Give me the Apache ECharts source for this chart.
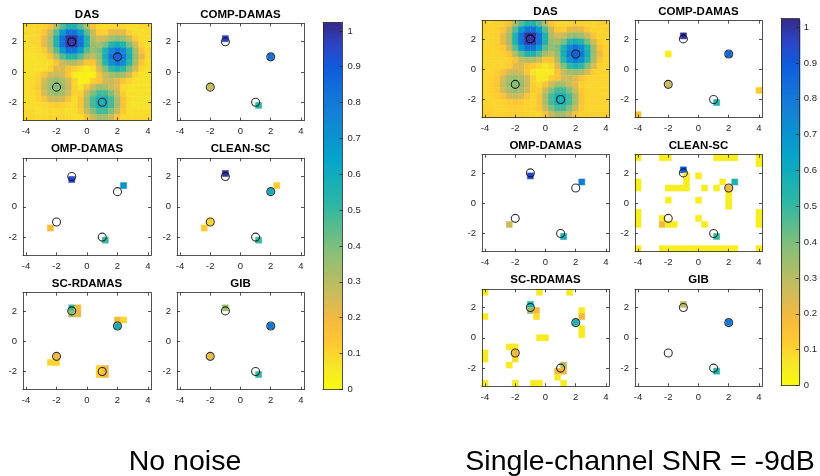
<!DOCTYPE html>
<html><head><meta charset="utf-8">
<script src="https://cdn.jsdelivr.net/npm/echarts@6/dist/echarts.min.js"></script>
<style>html,body{margin:0;padding:0;background:#fff}#c{width:820px;height:476px}</style>
</head><body><div id="c"></div>
<script>
// ---------------- data ----------------
const xCenters = [-4,-3.6,-3.2,-2.8,-2.4,-2,-1.6,-1.2,-0.8,-0.4,0,0.4,0.8,1.2,1.6,2,2.4,2.8,3.2,3.6,4];
const yCenters = [3,2.6,2.2,1.8,1.4,1,0.6,0.2,-0.2,-0.6,-1,-1.4,-1.8,-2.2,-2.6,-3];
const xTicks = [-4,-2,0,2,4];
const yTicks = [-2,0,2];
const cbTicks = [0,0.1,0.2,0.3,0.4,0.5,0.6,0.7,0.8,0.9,1];
const sources = [[-1,2],[2,1],[-2,-1],[1,-2]];
const titles = ['DAS','COMP-DAMAS','OMP-DAMAS','CLEAN-SC','SC-RDAMAS','GIB'];
const captions = ['No noise','Single-channel SNR = -9dB'];

const dasClean = [
[.09,.09,.10,.11,.15,.31,.45,.55,.55,.45,.31,.15,.09,.08,.09,.10,.09,.08,.08,.09,.09],
[.09,.09,.10,.14,.27,.45,.67,.82,.82,.67,.45,.27,.12,.11,.21,.23,.21,.11,.08,.08,.09],
[.08,.09,.10,.21,.32,.55,.82,1.0,1.0,.82,.55,.31,.25,.26,.34,.37,.34,.26,.12,.08,.08],
[.08,.09,.10,.21,.32,.55,.82,.99,.99,.82,.55,.35,.33,.40,.54,.59,.54,.40,.25,.10,.07],
[.08,.08,.09,.12,.27,.45,.67,.82,.82,.67,.45,.36,.40,.55,.74,.82,.74,.55,.33,.15,.09],
[.07,.07,.08,.09,.15,.31,.45,.55,.55,.45,.33,.28,.37,.58,.80,.88,.80,.58,.35,.21,.09],
[.07,.07,.07,.07,.08,.15,.27,.31,.31,.26,.14,.15,.32,.53,.72,.80,.72,.53,.32,.14,.08],
[.07,.07,.07,.08,.10,.22,.24,.15,.12,.08,.04,.08,.24,.39,.52,.57,.52,.39,.24,.09,.07],
[.07,.08,.10,.15,.25,.27,.25,.14,.04,.03,.03,.03,.15,.28,.33,.36,.33,.25,.10,.07,.07],
[.08,.09,.11,.25,.33,.36,.33,.25,.10,.03,.03,.11,.15,.25,.27,.23,.15,.10,.07,.07,.07],
[.08,.09,.12,.27,.36,.39,.36,.27,.11,.06,.14,.26,.33,.33,.27,.22,.09,.07,.07,.07,.07],
[.08,.09,.11,.25,.33,.36,.33,.25,.11,.11,.27,.39,.48,.48,.39,.27,.11,.07,.07,.07,.07],
[.08,.08,.10,.15,.25,.27,.25,.15,.08,.15,.33,.48,.58,.58,.48,.33,.15,.08,.07,.07,.07],
[.08,.08,.08,.09,.11,.12,.11,.09,.08,.15,.33,.48,.58,.58,.48,.33,.15,.08,.07,.07,.07],
[.09,.09,.08,.08,.09,.09,.09,.08,.08,.12,.27,.39,.48,.48,.39,.27,.12,.08,.08,.08,.08],
[.10,.10,.09,.09,.10,.10,.10,.09,.08,.08,.15,.27,.33,.33,.27,.15,.09,.09,.09,.09,.09]
];
const dasNoisy = [
[.11,.10,.11,.12,.16,.31,.45,.55,.55,.45,.31,.15,.10,.09,.10,.12,.11,.10,.10,.11,.11],
[.11,.10,.11,.14,.27,.45,.67,.82,.82,.67,.45,.27,.13,.12,.21,.23,.21,.13,.10,.10,.11],
[.10,.10,.11,.21,.32,.55,.82,1.0,1.0,.82,.55,.31,.25,.26,.34,.37,.34,.26,.14,.10,.10],
[.10,.10,.11,.21,.32,.55,.82,.99,.99,.82,.55,.35,.33,.40,.54,.59,.54,.40,.25,.12,.10],
[.10,.10,.11,.13,.27,.45,.67,.82,.82,.67,.45,.36,.40,.55,.74,.82,.74,.55,.33,.16,.11],
[.10,.10,.10,.11,.15,.31,.45,.55,.55,.45,.33,.28,.37,.58,.80,.88,.80,.58,.35,.21,.11],
[.10,.10,.10,.10,.11,.15,.27,.31,.31,.26,.14,.15,.32,.53,.72,.80,.72,.53,.32,.15,.10],
[.10,.10,.10,.10,.12,.22,.24,.15,.13,.09,.06,.09,.24,.39,.52,.57,.52,.39,.24,.11,.10],
[.10,.10,.12,.16,.25,.27,.25,.14,.06,.04,.04,.05,.15,.28,.33,.36,.33,.25,.12,.10,.10],
[.10,.11,.13,.25,.33,.36,.33,.25,.11,.05,.05,.12,.15,.25,.27,.23,.15,.11,.10,.10,.10],
[.10,.11,.14,.27,.36,.39,.36,.27,.12,.08,.14,.26,.33,.33,.27,.22,.11,.10,.10,.10,.10],
[.10,.11,.13,.25,.33,.36,.33,.25,.12,.12,.27,.39,.48,.48,.39,.27,.13,.10,.10,.10,.10],
[.10,.10,.12,.15,.25,.27,.25,.15,.10,.15,.33,.48,.58,.58,.48,.33,.15,.10,.10,.10,.10],
[.10,.10,.10,.11,.13,.14,.13,.11,.10,.15,.33,.48,.58,.58,.48,.33,.15,.10,.10,.10,.10],
[.11,.11,.10,.10,.11,.11,.11,.10,.10,.13,.27,.39,.48,.48,.39,.27,.13,.10,.10,.10,.10],
[.12,.12,.11,.11,.12,.12,.12,.11,.10,.10,.15,.27,.33,.33,.27,.15,.11,.11,.11,.11,.11]
];

// sparse maps: [x, y, value]
const compClean = [[-1.0,2.2,0.97],[2.0,1.0,0.82],[-2.0,-1.0,0.27],[1.2,-2.2,0.52]];
const ompClean = [[-1.0,1.8,0.95],[2.4,1.4,0.70],[-2.4,-1.4,0.18],[1.2,-2.2,0.50]];
const cleanClean = [[-1.0,2.2,1.0],[2.0,1.0,0.60],[2.4,1.4,0.12],[-2.4,-1.4,0.12],[-2.0,-1.0,0.10],[1.2,-2.2,0.50]];
const rdamasClean = [[-1.0,2.2,0.50],[-1.0,1.8,0.35],[-0.6,2.2,0.20],[-0.6,1.8,0.22],
  [2.0,1.0,0.60],[2.0,1.4,0.20],[2.4,1.4,0.10],
  [-2.0,-1.0,0.20],[-2.4,-1.4,0.10],[-2.0,-1.4,0.10],
  [0.8,-1.8,0.10],[1.2,-1.8,0.20],[0.8,-2.2,0.12],[1.2,-2.2,0.20]];
const gibClean = [[-1.0,2.2,0.35],[2.0,1.0,0.80],[-2.0,-1.0,0.22],[1.2,-2.2,0.50]];

const compNoisy = [[-1.0,2.2,1.0],[2.0,1.0,0.85],[-2.0,1.0,0.04],[-2.0,-1.0,0.27],[1.2,-2.2,0.55],[4.0,-1.4,0.12],[-4.0,-3.0,0.15]];
const ompNoisy = [[-1.0,1.8,0.95],[2.4,1.4,0.78],[-2.4,-1.4,0.27],[1.2,-2.2,0.58]];
const cleanNoisy = [[-4,3,.04],[-2.4,3,.04],[-2,3,.04],[1.2,3,.04],[1.6,3,.04],[2,3,.04],[2.4,3,.04],[4,3,.04],[4,2.6,.04],
  [-4,1.4,.04],[-4,1,.04],[-4,-0.6,.04],[-4,-1,.04],[-4,-1.4,.04],[4,-0.6,.04],[4,-1,.04],[4,-1.4,.04],
  [-1.0,2.2,0.9],[-0.8,1.8,.04],[-0.8,1.4,.04],[-0.8,1.0,.04],[-2.0,1.0,.04],[-1.6,1.0,.04],[-1.2,1.0,.04],
  [0,1.8,.04],[0.4,1.0,.04],[1.2,1.0,.04],[1.6,1.4,.04],[2.0,1.0,0.2],[2.4,1.4,0.55],[2.0,0.6,.04],[2.0,0.2,.04],[2.0,-0.2,.04],
  [-2.0,0.2,.04],[0,0.2,.04],[0,-1.0,.04],[0.4,-1.4,.04],[-2.4,-1.0,.04],[-2.4,-1.4,0.2],[-2.0,-1.4,.04],[-1.6,-1.4,.04],
  [1.2,-2.2,0.5],
  [-4,-3,.04],[-2.4,-3,.04],[-2,-3,.04],[-1.6,-3,.04],[-1.2,-3,.04],[-0.8,-3,.04],[-0.4,-3,.04],[0,-3,.04],[0.4,-3,.04],[0.8,-3,.04],[1.2,-3,.04],[1.6,-3,.04],[2,-3,.04],[2.4,-3,.04],[4,-3,.04]];
const rdamasNoisy = [[-4,3,.05],[-0.4,3,.05],[1.6,3,.05],
  [-1.0,2.2,0.55],[-1.0,1.8,0.35],[-0.6,1.8,0.2],[-0.6,1.4,0.08],[-4,1.4,.05],
  [2.4,1.8,.05],[2.4,1.4,0.2],[2.0,1.0,0.55],[2.4,0.6,.05],[2.4,0.2,.05],
  [-0.4,0.0,.05],[0.0,0.0,.05],
  [-2.4,-0.6,.05],[-2.0,-0.6,.05],[-2.0,-1.0,0.2],[-2.0,-1.4,.08],[-2.4,-1.8,.05],
  [-4,-1.0,.05],[-4,-1.4,.05],
  [1.2,-1.8,0.3],[0.8,-2.2,0.2],[1.2,-2.2,0.2],[0.8,-2.6,.05],
  [-4,-3,.05],[-2.0,-3,.05],[-0.8,-3,.05],[-0.4,-3,.05],[1.2,-3,.05]];
const gibNoisy = [[-1.0,2.2,0.30],[2.0,1.0,0.80],[1.2,-2.2,0.55]];

// ---------------- styling / layout ----------------
const FONT = 'Liberation Sans, Arial, Helvetica, sans-serif';
const AX = '#262626';
const HALF = (xCenters[1] - xCenters[0]) / 2;
// reversed parula, evenly spaced from 0 to CMAX
const parula = ['#f9fb0e','#f6e529','#fec832','#f4ba3e','#d1bb59','#adbd67','#87bf77','#5bbc8d','#2eb7a4','#18afb5','#06a4ca','#0a93d0','#1481d6','#1270d9','#0f5cdd','#2c44c6','#352a87'];
const CMAX = 1.024;

function denseToCells(m){
  const out=[];
  for(let r=0;r<m.length;r++) for(let c=0;c<m[r].length;c++) out.push([xCenters[c], yCenters[r], m[r][c]]);
  return out;
}
const panels = [
  {cells: denseToCells(dasClean)}, {cells: compClean}, {cells: ompClean}, {cells: cleanClean}, {cells: rdamasClean}, {cells: gibClean},
  {cells: denseToCells(dasNoisy)}, {cells: compNoisy}, {cells: ompNoisy}, {cells: cleanNoisy}, {cells: rdamasNoisy}, {cells: gibNoisy}
];
const geo = [
  [23,23.5,128,97],[177,23.5,127,97],[23,158.3,128,97],[177,158.3,127,97],[23,292.7,128,97],[177,292.7,127,97],
  [482,20.7,127,97],[635,20.7,127,97],[482,154.7,127,97],[635,154.7,127,97],[482,289.3,127,97],[635,289.3,127,97]
];
const cbGeo = [[323,22.3,19.5,367],[781,18.5,19.5,367]];

const grid=[], xAxis=[], yAxis=[], series=[], graphic=[];
function axisCommon(extra){
  return Object.assign({type:'value', z:10, splitLine:{show:false},
    axisLine:{show:true,onZero:false,lineStyle:{color:AX,width:0.8}}}, extra);
}
panels.forEach((p,k)=>{
  const [l,t,w,h] = geo[k];
  grid.push({left:l, top:t, width:w, height:h, containLabel:false});
  const tickX = {show:true,inside:true,length:3,customValues:xTicks,lineStyle:{color:AX,width:0.8}};
  const tickY = {show:true,inside:true,length:3,customValues:yTicks,lineStyle:{color:AX,width:0.8}};
  xAxis.push(axisCommon({gridIndex:k,min:-4.2,max:4.2,position:'bottom',axisTick:tickX,
    axisLabel:{show:true,customValues:xTicks,color:AX,fontSize:9.5,margin:6,fontFamily:FONT}}));
  xAxis.push(axisCommon({gridIndex:k,min:-4.2,max:4.2,position:'top',axisTick:tickX,axisLabel:{show:false}}));
  yAxis.push(axisCommon({gridIndex:k,min:-3.2,max:3.2,position:'left',axisTick:tickY,
    axisLabel:{show:true,customValues:yTicks,color:AX,fontSize:9.5,margin:6,fontFamily:FONT}}));
  yAxis.push(axisCommon({gridIndex:k,min:-3.2,max:3.2,position:'right',axisTick:tickY,axisLabel:{show:false}}));
  series.push({type:'custom', xAxisIndex:2*k, yAxisIndex:2*k, data:p.cells, z:2, silent:true,
    encode:{x:0,y:1},
    renderItem:function(params, api){
      const x=api.value(0), y=api.value(1);
      const a=api.coord([x-HALF,y+HALF]), b=api.coord([x+HALF,y-HALF]);
      const cs=params.coordSys;
      const r=echarts.graphic.clipRectByRect({x:a[0],y:a[1],width:b[0]-a[0],height:b[1]-a[1]},{x:cs.x,y:cs.y,width:cs.width,height:cs.height});
      if(!r) return;
      const col=api.visual('color');
      return {type:'rect',shape:r,style:{fill:col,stroke:col,lineWidth:0.5}};
    }});
  series.push({type:'scatter', xAxisIndex:2*k, yAxisIndex:2*k, data:sources, z:5, silent:true,
    symbol:'circle', symbolSize:8, itemStyle:{color:'rgba(0,0,0,0)',borderColor:'#000',borderWidth:1.1}});
  graphic.push({type:'text', x:l+w/2, y:t-9, style:{text:titles[k%6], font:'bold 11.5px '+FONT, fill:'#000', textAlign:'center', textVerticalAlign:'middle'}});
});
// colorbars: frame + ticks as grids
cbGeo.forEach((g,i)=>{
  const gi = 12+i;
  const [l,t,w,h]=g;
  grid.push({left:l, top:t, width:w, height:h});
  xAxis.push(axisCommon({gridIndex:gi,min:0,max:1,position:'bottom',axisTick:{show:false},axisLabel:{show:false}}));
  xAxis.push(axisCommon({gridIndex:gi,min:0,max:1,position:'top',axisTick:{show:false},axisLabel:{show:false}}));
  yAxis.push(axisCommon({gridIndex:gi,min:0,max:CMAX,position:'right',
    axisTick:{show:true,inside:true,length:3,customValues:cbTicks,lineStyle:{color:AX,width:0.8}},
    axisLabel:{show:true,customValues:cbTicks,color:AX,fontSize:9.5,margin:5,fontFamily:FONT,formatter:v=>String(+v.toFixed(1))}}));
  yAxis.push(axisCommon({gridIndex:gi,min:0,max:CMAX,position:'left',axisTick:{show:false},axisLabel:{show:false}}));
});
const visualMap = cbGeo.map((g,i)=>({
  type:'continuous', min:0, max:CMAX, dimension:2, calculable:false, hoverLink:false,
  seriesIndex:[0,2,4,6,8,10].map(s=>s+12*i), inRange:{color:parula},
  left:g[0], top:g[1], itemWidth:g[2], itemHeight:g[3], padding:0, text:null, showLabel:false, orient:'vertical'
}));
captions.forEach((c,i)=>{
  graphic.push({type:'text', x: i===0?185:640, y:462, style:{text:c, font:'28.5px '+FONT, fill:'#000', textAlign:'center', textVerticalAlign:'middle'}});
});

const chart = echarts.init(document.getElementById('c'), null, {renderer:'canvas'});
chart.setOption({animation:false, backgroundColor:'#fff', grid, xAxis, yAxis, series, visualMap, graphic});
</script></body></html>
